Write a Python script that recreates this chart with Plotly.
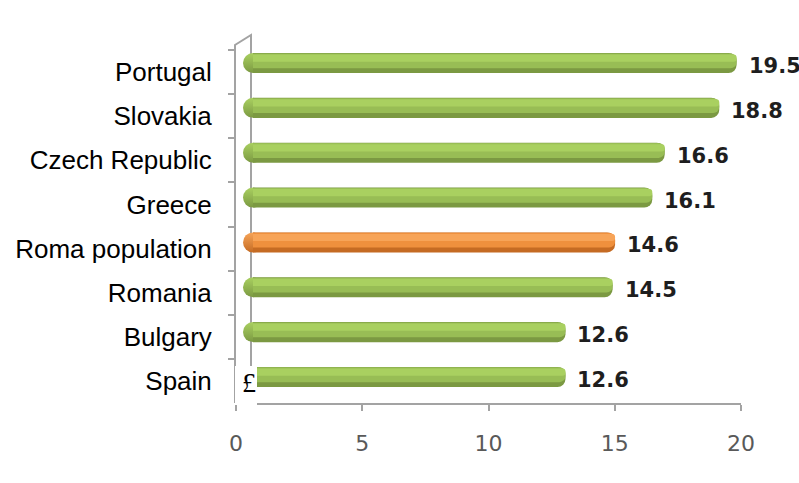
import plotly.graph_objects as go

# ---- data -------------------------------------------------------------
countries = ["Portugal", "Slovakia", "Czech Republic", "Greece",
             "Roma population", "Romania", "Bulgary", "Spain"]
values = [19.5, 18.8, 16.6, 16.1, 14.6, 14.5, 12.6, 12.6]
highlight = "Roma population"
x_ticks = [0, 5, 10, 15, 20]

W, H = 799, 483


def fx(px):
    return px / W


def fy(py):
    return 1 - py / H


# cylinder shading: dark body, mid band, light highlight
GREEN = {"dark": "#7b9942", "mid": "#98bd55", "light": "#a9d060"}
ORANGE = {"dark": "#c56b23", "mid": "#ef903d", "light": "#f7a458"}


def tone(key):
    return [(ORANGE if c == highlight else GREEN)[key] for c in countries]


fig = go.Figure()

# rounded cylinder base at zero, on a layer drawn beneath the bars
fig.add_trace(go.Scatter(
    x=[0] * len(countries), y=countries, xaxis="x3", yaxis="y3",
    mode="markers", cliponaxis=False,
    marker=dict(symbol="circle", size=20, color=tone("light"),
                gradient=dict(type="vertical", color=tone("dark")),
                line=dict(width=0)),
    hoverinfo="skip", showlegend=False,
))

# bar body and shading bands (same values, layered by offset)
bands = [("dark", -0.223, 0.446, 8),
         ("mid", -0.215, 0.33, 6),
         ("light", -0.19, 0.16, 4)]
for key, off, wid, rad in bands:
    fig.add_trace(go.Bar(
        x=values, y=countries, orientation="h",
        offset=off, width=wid,
        marker=dict(color=tone(key), line=dict(width=0), cornerradius=rad),
        hoverinfo="skip", showlegend=False,
    ))

# category axis (left wall) and value axis (floor)
fig.add_trace(go.Scatter(
    x=[None] * len(countries), y=countries, xaxis="x2", yaxis="y2",
    mode="markers", hoverinfo="skip", showlegend=False,
))

# value labels
for c, v in zip(countries, values):
    fig.add_annotation(
        x=v, y=c, xref="x", yref="y", text=f"{v:.1f}", showarrow=False,
        xanchor="left", yanchor="middle", xshift=10, yshift=-3,
        font=dict(family="DejaVu Sans", size=21, color="#1e1e1e", weight="bold"),
    )

axis_gray = "#a3a3a3"

# back wall edge
fig.add_shape(
    type="path", xref="paper", yref="paper", layer="below",
    path=(f"M {fx(235)},{fy(50)} L {fx(235)},{fy(45)} "
          f"L {fx(251)},{fy(35)} L {fx(251)},{fy(404)}"),
    line=dict(color=axis_gray, width=2),
)

# white patch with the stray glyph
fig.add_shape(
    type="rect", xref="paper", yref="paper", layer="above",
    x0=fx(235), x1=fx(257), y0=fy(405), y1=fy(366),
    fillcolor="white", line=dict(width=0),
)
fig.add_annotation(
    x=fx(249), y=fy(382), xref="paper", yref="paper", text="£",
    showarrow=False, xanchor="center", yanchor="middle",
    font=dict(family="Liberation Serif", size=28, color="black"),
)

hidden = dict(showgrid=False, zeroline=False, showline=False,
              showticklabels=False, ticks="", automargin=False)

fig.update_layout(
    template="none",
    width=W, height=H,
    margin=dict(l=0, r=0, t=0, b=0, pad=0),
    paper_bgcolor="white", plot_bgcolor="rgba(0,0,0,0)",
    barmode="overlay",
    xaxis3=dict(domain=[fx(253), fx(749)], range=[0, 20], anchor="y3", **hidden),
    yaxis3=dict(domain=[fy(399.4), fy(40.6)], type="category", anchor="x3",
                categoryorder="array", categoryarray=countries,
                range=[7.5, -0.5], **hidden),
    xaxis=dict(overlaying="x3", range=[0, 20], anchor="y", **hidden),
    yaxis=dict(overlaying="y3", type="category", anchor="x",
               categoryorder="array", categoryarray=countries,
               range=[7.5, -0.5], **hidden),
    xaxis2=dict(domain=[fx(236), fx(741)], range=[0, 20], automargin=False,
                anchor="free", position=fy(404),
                tickvals=x_ticks, ticktext=[str(t) for t in x_ticks],
                showgrid=False, zeroline=False,
                showline=True, linecolor=axis_gray, linewidth=2,
                ticks="outside", ticklen=6, tickwidth=2, tickcolor=axis_gray,
                ticklabelstandoff=14,
                tickfont=dict(family="DejaVu Sans", size=22, color="#595959")),
    yaxis2=dict(domain=[fy(403), fy(50)], type="category", automargin=False,
                categoryorder="array", categoryarray=countries,
                range=[7.5, -0.5],
                anchor="free", position=fx(235),
                showgrid=False, zeroline=False,
                showline=True, linecolor=axis_gray, linewidth=2,
                ticks="outside", ticklen=6, tickwidth=2, tickcolor=axis_gray,
                tickson="boundaries", ticklabelstandoff=17,
                tickfont=dict(family="Liberation Sans", size=26, color="black")),
)

fig.write_html("out.html")
